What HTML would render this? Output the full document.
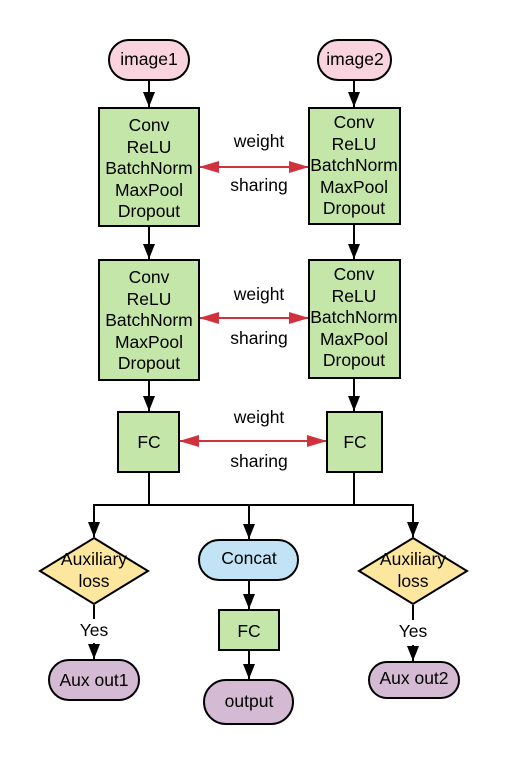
<!DOCTYPE html>
<html><head><style>body{margin:0;background:#fff}</style></head><body>
<svg width="507" height="765" viewBox="0 0 507 765" xmlns="http://www.w3.org/2000/svg" font-family="Liberation Sans, sans-serif" font-size="17.5">
<defs>
<marker id="a" markerWidth="15" markerHeight="12" refX="15" refY="6" orient="auto" markerUnits="userSpaceOnUse" viewBox="0 0 15 12"><path d="M0,0 L15,6 L0,12 z" fill="#000"/></marker>
<marker id="r" markerWidth="20" markerHeight="12" refX="19" refY="6" orient="auto-start-reverse" markerUnits="userSpaceOnUse"><path d="M0,0 L20,6 L0,12 z" fill="#d0313d"/></marker>
</defs>
<g stroke="#000" stroke-width="2" fill="none">
<line x1="149" y1="80" x2="149" y2="107" marker-end="url(#a)"/>
<line x1="354" y1="80" x2="354" y2="107" marker-end="url(#a)"/>
<line x1="149" y1="227" x2="149" y2="259" marker-end="url(#a)"/>
<line x1="354" y1="225" x2="354" y2="259" marker-end="url(#a)"/>
<line x1="149" y1="381" x2="149" y2="411" marker-end="url(#a)"/>
<line x1="354" y1="379" x2="354" y2="411" marker-end="url(#a)"/>
<polyline points="149,473 149,505 354,505 354,473"/>
<polyline points="149,505 94,505 94,537" marker-end="url(#a)"/>
<polyline points="354,505 413,505 413,537" marker-end="url(#a)"/>
<line x1="249" y1="505" x2="249" y2="539" marker-end="url(#a)"/>
<line x1="249" y1="581" x2="249" y2="609" marker-end="url(#a)"/>
<line x1="249" y1="651" x2="249" y2="679" marker-end="url(#a)"/>
<line x1="94" y1="605" x2="94" y2="619"/>
<line x1="94" y1="643" x2="94" y2="659" marker-end="url(#a)"/>
<line x1="413" y1="605" x2="413" y2="620"/>
<line x1="413" y1="645" x2="413" y2="661" marker-end="url(#a)"/>
</g>
<g stroke="#d0313d" stroke-width="2">
<line x1="200" y1="167" x2="308" y2="167" marker-start="url(#r)" marker-end="url(#r)"/>
<line x1="200" y1="318" x2="308" y2="318" marker-start="url(#r)" marker-end="url(#r)"/>
<line x1="180" y1="441" x2="326" y2="441" marker-start="url(#r)" marker-end="url(#r)"/>
</g>
<g stroke="#000" stroke-width="2">
<rect x="109" y="40" width="80" height="40" rx="20" fill="#f9d3dd"/>
<rect x="318" y="40" width="73" height="40" rx="20" fill="#f9d3dd"/>
<rect x="99" y="108" width="100" height="118" fill="#c5e6a9"/>
<rect x="309" y="108" width="91" height="116" fill="#c5e6a9"/>
<rect x="99" y="260" width="100" height="120" fill="#c5e6a9"/>
<rect x="309" y="260" width="91" height="118" fill="#c5e6a9"/>
<rect x="118" y="412" width="61" height="60" fill="#c5e6a9"/>
<rect x="327" y="412" width="55" height="60" fill="#c5e6a9"/>
<polygon points="94,538 148,571 94,604 40,571" fill="#fde79e"/>
<polygon points="413,538 467,571 413,604 359,571" fill="#fde79e"/>
<rect x="199" y="540" width="99" height="40" rx="20" fill="#c1e3f5"/>
<rect x="219" y="610" width="60" height="40" fill="#c5e6a9"/>
<rect x="204" y="680" width="89" height="44" rx="22" fill="#d4bbd3"/>
<rect x="49" y="660" width="90" height="40" rx="20" fill="#d4bbd3"/>
<rect x="369" y="662" width="90" height="36" rx="18" fill="#d4bbd3"/>
</g>
<g text-anchor="middle" fill="#000">
<text x="149" y="65">image1</text>
<text x="355" y="65">image2</text>
<text x="149" y="131">Conv</text><text x="149" y="153">ReLU</text><text x="149" y="174">BatchNorm</text><text x="149" y="196">MaxPool</text><text x="149" y="217">Dropout</text>
<text x="354" y="128">Conv</text><text x="354" y="150">ReLU</text><text x="354" y="171">BatchNorm</text><text x="354" y="193">MaxPool</text><text x="354" y="214">Dropout</text>
<text x="149" y="283">Conv</text><text x="149" y="305">ReLU</text><text x="149" y="326">BatchNorm</text><text x="149" y="348">MaxPool</text><text x="149" y="369">Dropout</text>
<text x="354" y="280">Conv</text><text x="354" y="302">ReLU</text><text x="354" y="323">BatchNorm</text><text x="354" y="345">MaxPool</text><text x="354" y="366">Dropout</text>
<text x="259" y="147">weight</text><text x="259" y="191">sharing</text>
<text x="259" y="300">weight</text><text x="259" y="344">sharing</text>
<text x="259" y="423">weight</text><text x="259" y="467">sharing</text>
<text x="149" y="448">FC</text><text x="355" y="448">FC</text>
<text x="94" y="565">Auxiliary</text><text x="94" y="587">loss</text>
<text x="413" y="565">Auxiliary</text><text x="413" y="587">loss</text>
<text x="249" y="564">Concat</text>
<text x="249" y="637">FC</text>
<text x="249" y="707">output</text>
<text x="94" y="686">Aux out1</text>
<text x="414" y="684">Aux out2</text>
<text x="94" y="636">Yes</text>
<text x="413" y="637">Yes</text>
</g>
</svg>
</body></html>
